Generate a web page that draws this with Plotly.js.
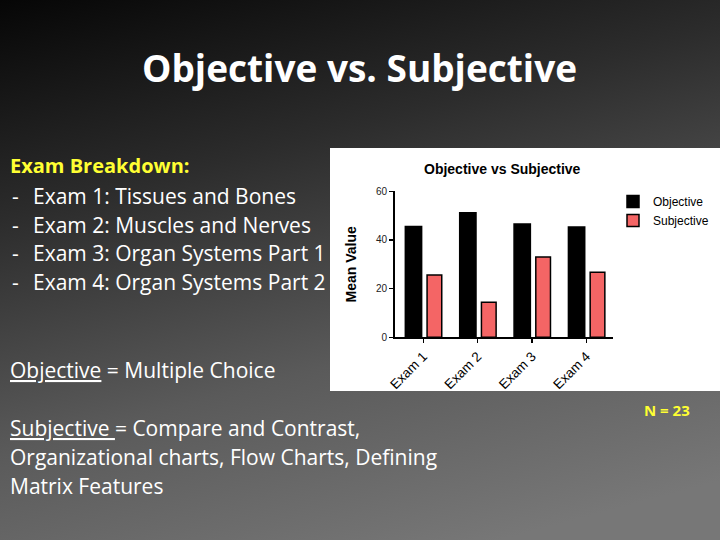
<!DOCTYPE html>
<html>
<head>
<meta charset="utf-8">
<script src="https://cdn.plot.ly/plotly-3.0.1.min.js"></script>
<style>
html,body{margin:0;padding:0;}
#slide{width:720px;height:540px;background:linear-gradient(165deg,#060606 0%,#2c2c2c 30%,#5a5a5a 62%,#777777 92%);}
</style>
</head>
<body>
<div id="slide"></div>
<script>
const categories = ["Exam 1", "Exam 2", "Exam 3", "Exam 4"];
const objectiveValues = [45.5, 51.2, 46.6, 45.3];
const subjectiveValues = [25.6, 14.4, 33.0, 26.7];
const seriesNames = ["Objective", "Subjective"];
const yTicks = [0, 20, 40, 60];
const breakdownLines = [
  "Exam 1: Tissues and Bones",
  "Exam 2: Muscles and Nerves",
  "Exam 3: Organ Systems Part 1",
  "Exam 4: Organ Systems Part 2"
];

const W = 720, H = 540;
const px = x => x / W;
const py = y => 1 - y / H;

const traces = [
  {type: "bar", name: seriesNames[0], x: categories, y: objectiveValues,
   marker: {color: "#000000", line: {color: "#000000", width: 1.5}},
   offset: -0.33, width: 0.3},
  {type: "bar", name: seriesNames[1], x: categories, y: subjectiveValues,
   marker: {color: "#f46565", line: {color: "#000000", width: 1.5}},
   offset: 0.07, width: 0.27}
];

const slideFont = "'Open Sans', 'Noto Sans', sans-serif";
const chartFont = "'Liberation Sans', Arial, sans-serif";
const bodySize = 21;

const annotations = [
  {text: "<b>Objective vs. Subjective</b>", x: px(359), y: py(68), xref: "paper", yref: "paper",
   showarrow: false, xanchor: "center", yanchor: "middle",
   font: {family: slideFont, size: 37, color: "#ffffff"}},
  {text: "<b>Exam Breakdown:</b>", x: px(8), y: py(166), xref: "paper", yref: "paper",
   showarrow: false, xanchor: "left", yanchor: "middle",
   font: {family: slideFont, size: 20, color: "#ffff33"}},
  {text: "<b>Objective vs Subjective</b>", x: px(502), y: py(169), xref: "paper", yref: "paper",
   showarrow: false, xanchor: "center", yanchor: "middle",
   font: {family: chartFont, size: 14, color: "#000000"}},
  {text: "<u>Objective</u> = Multiple Choice", x: px(8), y: py(370), xref: "paper", yref: "paper",
   showarrow: false, xanchor: "left", yanchor: "middle",
   font: {family: slideFont, size: bodySize, color: "#ffffff"}},
  {text: "<u>Subjective </u>= Compare and Contrast,", x: px(8), y: py(428), xref: "paper", yref: "paper",
   showarrow: false, xanchor: "left", yanchor: "middle",
   font: {family: slideFont, size: bodySize, color: "#ffffff"}},
  {text: "Organizational charts, Flow Charts, Defining", x: px(8), y: py(457), xref: "paper", yref: "paper",
   showarrow: false, xanchor: "left", yanchor: "middle",
   font: {family: slideFont, size: bodySize, color: "#ffffff"}},
  {text: "Matrix Features", x: px(8), y: py(486), xref: "paper", yref: "paper",
   showarrow: false, xanchor: "left", yanchor: "middle",
   font: {family: slideFont, size: bodySize, color: "#ffffff"}},
  {text: "<b>N = 23</b>", x: px(667), y: py(410), xref: "paper", yref: "paper",
   showarrow: false, xanchor: "center", yanchor: "middle",
   font: {family: slideFont, size: 15, color: "#ffff33"}}
];
breakdownLines.forEach((t, i) => {
  const yy = 196 + i * 28.7;
  annotations.push({text: "-", x: px(10), y: py(yy), xref: "paper", yref: "paper",
    showarrow: false, xanchor: "left", yanchor: "middle",
    font: {family: slideFont, size: bodySize, color: "#ffffff"}});
  annotations.push({text: t, x: px(31), y: py(yy), xref: "paper", yref: "paper",
    showarrow: false, xanchor: "left", yanchor: "middle",
    font: {family: slideFont, size: bodySize, color: "#ffffff"}});
});

const layout = {
  width: W, height: H,
  margin: {l: 0, r: 0, t: 0, b: 0, pad: 0},
  paper_bgcolor: "rgba(0,0,0,0)",
  plot_bgcolor: "rgba(0,0,0,0)",
  showlegend: true,
  barmode: "group",
  legend: {x: px(613), y: py(187), xanchor: "left", yanchor: "top",
    font: {family: chartFont, size: 12, color: "#000000"},
    bgcolor: "rgba(0,0,0,0)", tracegroupgap: 0, itemwidth: 30},
  xaxis: {domain: [px(395), px(613)], range: [-0.52, 3.49], anchor: "y",
    showline: true, linecolor: "#000000", linewidth: 2,
    ticks: "outside", ticklen: 4, tickcolor: "#000000", tickwidth: 1.5,
    tickangle: -45, showgrid: false, zeroline: false, fixedrange: true,
    tickfont: {family: chartFont, size: 13.5, color: "#000000"}},
  yaxis: {domain: [py(337.3), py(191.3)], range: [0, 60], anchor: "x",
    showline: true, linecolor: "#000000", linewidth: 2,
    ticks: "outside", ticklen: 4, tickcolor: "#000000", tickwidth: 1.5,
    tickvals: yTicks, ticktext: yTicks.map(String),
    showgrid: false, zeroline: false, fixedrange: true,
    tickfont: {family: chartFont, size: 10, color: "#222222"},
    title: {text: "<b>Mean Value</b>", standoff: 16,
      font: {family: chartFont, size: 14, color: "#000000"}}},
  shapes: [
    {type: "rect", xref: "paper", yref: "paper", layer: "below",
     x0: px(330), x1: px(720), y0: py(391), y1: py(148),
     fillcolor: "#ffffff", line: {width: 0}}
  ],
  annotations: annotations
};

Plotly.newPlot("slide", traces, layout, {displayModeBar: false, staticPlot: true});
</script>
</body>
</html>
